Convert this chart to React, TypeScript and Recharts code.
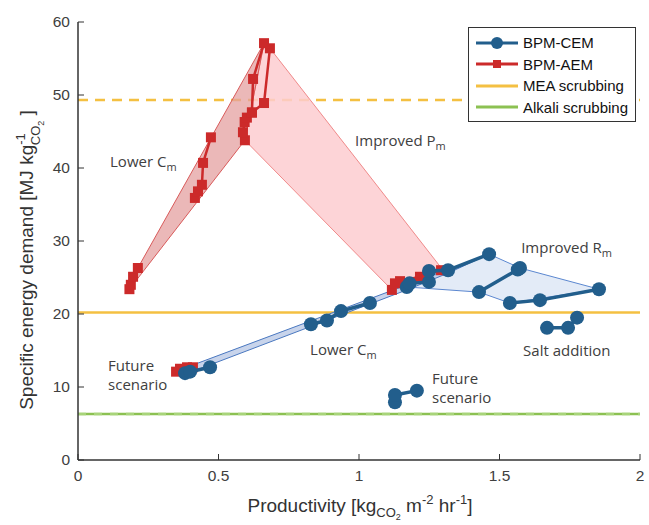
import {
  ComposedChart,
  Scatter,
  XAxis,
  YAxis,
  ReferenceLine,
  ReferenceDot,
  Legend,
} from "recharts";

// BPM-AEM measured runs (productivity, energy)
const aemLow = [
  { x: 0.183, y: 23.4 },
  { x: 0.188, y: 24.0 },
  { x: 0.196, y: 25.1 },
  { x: 0.213, y: 26.3 },
];
const aemMid = [
  { x: 0.416, y: 35.9 },
  { x: 0.427, y: 36.8 },
  { x: 0.441, y: 37.7 },
  { x: 0.445, y: 40.7 },
  { x: 0.473, y: 44.2 },
];
const aemPeak = [
  { x: 0.594, y: 43.8 },
  { x: 0.587, y: 44.9 },
  { x: 0.593, y: 46.3 },
  { x: 0.601, y: 46.9 },
  { x: 0.619, y: 47.6 },
  { x: 0.662, y: 48.9 },
  { x: 0.683, y: 56.4 },
  { x: 0.662, y: 57.1 },
  { x: 0.623, y: 52.2 },
  { x: 0.619, y: 47.6 },
];
const aemHigh = [
  { x: 1.117, y: 23.3 },
  { x: 1.128, y: 24.2 },
  { x: 1.146, y: 24.5 },
  { x: 1.217, y: 25.1 },
  { x: 1.292, y: 26.0 },
];
const aemFuture = [
  { x: 0.349, y: 12.1 },
  { x: 0.363, y: 12.5 },
  { x: 0.388, y: 12.7 },
  { x: 0.409, y: 12.7 },
];

// BPM-CEM measured runs
const cemFuture = [
  { x: 0.381, y: 11.9 },
  { x: 0.399, y: 12.1 },
  { x: 0.47, y: 12.7 },
];
const cemLowerC = [
  { x: 0.829, y: 18.6 },
  { x: 0.886, y: 19.1 },
  { x: 0.936, y: 20.4 },
  { x: 1.039, y: 21.5 },
];
const cemMid = [
  { x: 1.17, y: 23.7 },
  { x: 1.18, y: 24.2 },
  { x: 1.249, y: 24.4 },
  { x: 1.249, y: 25.9 },
  { x: 1.317, y: 26.0 },
  { x: 1.463, y: 28.2 },
];
const cemRm1 = [
  { x: 1.427, y: 23.0 },
  { x: 1.565, y: 26.1 },
  { x: 1.573, y: 26.3 },
];
const cemRm2 = [
  { x: 1.537, y: 21.5 },
  { x: 1.644, y: 21.9 },
  { x: 1.854, y: 23.4 },
];
const cemSalt = [
  { x: 1.669, y: 18.1 },
  { x: 1.744, y: 18.1 },
  { x: 1.776, y: 19.5 },
];
const cemFuture2 = [
  { x: 1.128, y: 7.9 },
  { x: 1.128, y: 8.9 },
  { x: 1.206, y: 9.5 },
];

// shaded envelopes
const redLowerC = [
  { x: 0.183, y: 23.4 },
  { x: 0.213, y: 26.3 },
  { x: 0.662, y: 57.1 },
  { x: 0.594, y: 43.8 },
  { x: 0.183, y: 23.4 },
];
const redImprovedP = [
  { x: 0.662, y: 57.1 },
  { x: 0.683, y: 56.4 },
  { x: 1.295, y: 26.2 },
  { x: 1.117, y: 23.3 },
  { x: 0.594, y: 43.8 },
  { x: 0.662, y: 57.1 },
];
const blueLowerC = [
  { x: 0.372, y: 11.6 },
  { x: 0.38, y: 12.6 },
  { x: 1.463, y: 28.2 },
  { x: 1.317, y: 25.6 },
  { x: 1.17, y: 23.3 },
  { x: 0.372, y: 11.6 },
];
const blueImprovedR = [
  { x: 1.17, y: 23.7 },
  { x: 1.463, y: 28.2 },
  { x: 1.573, y: 26.3 },
  { x: 1.854, y: 23.4 },
  { x: 1.537, y: 21.5 },
  { x: 1.427, y: 23.0 },
  { x: 1.17, y: 23.7 },
];

const xTicks = [0, 0.5, 1, 1.5, 2];
const yTicks = [0, 10, 20, 30, 40, 50, 60];
const MEA = 20.2;
const MEA_HIGH = 49.3;
const ALKALI = 6.3;

// annotation text anchors (start of text, baseline)
const notes = [
  { x: 0.114, y: 40.1, text: "Lower C", sub: "m" },
  { x: 0.986, y: 43.0, text: "Improved P", sub: "m" },
  { x: 1.577, y: 28.4, text: "Improved R", sub: "m" },
  { x: 0.826, y: 14.4, text: "Lower C", sub: "m" },
  { x: 1.584, y: 14.2, text: "Salt addition", sub: "" },
  { x: 0.107, y: 12.2, text: "Future", sub: "" },
  { x: 0.107, y: 9.6, text: "scenario", sub: "" },
  { x: 1.26, y: 10.4, text: "Future", sub: "" },
  { x: 1.26, y: 7.8, text: "scenario", sub: "" },
];

const BLUE = "#225e8c";
const RED = "#cc2a2a";
const ORANGE = "#f4c042";
const GREEN = "#8cc152";
const AXIS = "#333";
const FONT = "'Liberation Sans', Arial, sans-serif";

const circle = (p: any) => <circle cx={p.cx} cy={p.cy} r={7} fill={BLUE} />;
const square = (p: any) => (
  <rect x={p.cx - 5} y={p.cy - 5} width={10} height={10} fill={RED} />
);
const noShape = () => <g />;

const BottomTick = (p: any) => (
  <g>
    <line x1={p.x} x2={p.x} y1={p.y - 6} y2={p.y - 12} stroke={AXIS} />
    <text x={p.x} y={p.y} dy="0.95em" textAnchor="middle" fill="#404040" fontSize={15.5} fontFamily={FONT}>
      {p.payload.value}
    </text>
  </g>
);
const TopTick = (p: any) => (
  <line x1={p.x} x2={p.x} y1={p.y} y2={p.y + 6} stroke={AXIS} />
);
const LeftTick = (p: any) => (
  <g>
    <line x1={p.x + 8} x2={p.x + 14} y1={p.y} y2={p.y} stroke={AXIS} />
    <text x={p.x} y={p.y} dy="0.35em" textAnchor="end" fill="#404040" fontSize={15.5} fontFamily={FONT}>
      {p.payload.value}
    </text>
  </g>
);
const RightTick = (p: any) => (
  <line x1={p.x} x2={p.x - 6} y1={p.y} y2={p.y} stroke={AXIS} />
);

const Note = (text: string, sub: string) => (p: any) => (
  <text x={p.cx} y={p.cy} fill="#404040" fontSize={15} fontFamily="'Open Sans', sans-serif">
    {text}
    {sub && (
      <tspan fontSize={11} dy={4}>
        {sub}
      </tspan>
    )}
  </text>
);

const YLabel = () => (
  <text
    transform="translate(33,260) rotate(-90)"
    textAnchor="middle"
    fill="#333"
    fontSize={19}
    fontFamily={FONT}
  >
    Specific energy demand [MJ kg
    <tspan fontSize={13} dy={-8}>-1</tspan>
    <tspan fontSize={13} dx={-12} dy={15}>CO</tspan>
    <tspan fontSize={9} dy={4}>2</tspan>
    <tspan dy={-11}> ]</tspan>
  </text>
);

const XLabel = () => (
  <text x={360} y={512} textAnchor="middle" fill="#333" fontSize={19} fontFamily={FONT}>
    Productivity [kg
    <tspan fontSize={13} dy={5}>CO</tspan>
    <tspan fontSize={9} dy={3}>2</tspan>
    <tspan dy={-8}> m</tspan>
    <tspan fontSize={13} dy={-8}>-2</tspan>
    <tspan dy={8}> hr</tspan>
    <tspan fontSize={13} dy={-8}>-1</tspan>
    <tspan dy={8}>]</tspan>
  </text>
);

const legendItems = [
  { name: "BPM-CEM", color: BLUE, marker: "circle" },
  { name: "BPM-AEM", color: RED, marker: "square" },
  { name: "MEA scrubbing", color: ORANGE, marker: "" },
  { name: "Alkali scrubbing", color: GREEN, marker: "" },
];

const LegendBox = () => (
  <div
    style={{
      border: "1px solid #333",
      background: "#fff",
      padding: "4px 6px 3px 6px",
      fontFamily: FONT,
      fontSize: 15,
      color: "#111",
    }}
  >
    {legendItems.map((it) => (
      <div key={it.name} style={{ display: "flex", alignItems: "center", height: 21.5 }}>
        <svg width={44} height={14} style={{ marginRight: 4 }}>
          <line x1={1} x2={43} y1={7} y2={7} stroke={it.color} strokeWidth={3} />
          {it.marker === "circle" && <circle cx={22} cy={7} r={6} fill={it.color} />}
          {it.marker === "square" && <rect x={18} y={3} width={8} height={8} fill={it.color} />}
        </svg>
        <span>{it.name}</span>
      </div>
    ))}
  </div>
);

const polyScatter = (data: any[], fill: string, stroke: string, key: string) => (
  <Scatter
    key={key}
    data={data}
    shape={noShape}
    line={{ fill, stroke, strokeWidth: 1 }}
    lineType="joint"
    isAnimationActive={false}
    legendType="none"
  />
);

const redRuns = [aemLow, aemMid, aemPeak, aemHigh, aemFuture];
const blueRuns = [cemFuture, cemLowerC, cemMid, cemRm1, cemRm2, cemSalt, cemFuture2];

export default function App() {
  return (
    <div style={{ position: "absolute", left: 0, top: 0, background: "#fff" }}>
      <ComposedChart width={649} height={525} margin={{ top: 22, right: 9, left: 18, bottom: 20 }}>
        <XAxis
          type="number"
          dataKey="x"
          domain={[0, 2]}
          ticks={xTicks}
          allowDataOverflow
          height={45}
          tickLine={false}
          tickSize={0}
          tickMargin={6}
          tick={BottomTick}
          axisLine={{ stroke: AXIS, strokeWidth: 1.5 }}
          label={{ content: XLabel }}
        />
        <XAxis
          xAxisId="top"
          orientation="top"
          type="number"
          domain={[0, 2]}
          ticks={xTicks}
          height={0}
          tickLine={false}
          tickSize={0}
          tickMargin={0}
          tick={TopTick}
          axisLine={{ stroke: AXIS, strokeWidth: 1.5 }}
        />
        <YAxis
          type="number"
          dataKey="y"
          domain={[0, 60]}
          ticks={yTicks}
          allowDataOverflow
          width={60}
          tickLine={false}
          tickSize={0}
          tickMargin={8}
          tick={LeftTick}
          axisLine={{ stroke: AXIS, strokeWidth: 1.5 }}
          label={{ content: YLabel }}
        />
        <YAxis
          yAxisId="right"
          orientation="right"
          type="number"
          domain={[0, 60]}
          ticks={yTicks}
          width={0}
          tickLine={false}
          tickSize={0}
          tickMargin={0}
          tick={RightTick}
          axisLine={{ stroke: AXIS, strokeWidth: 1.5 }}
        />

        {polyScatter(redImprovedP, "rgba(253,205,208,0.85)", "#f08a8a", "p1")}
        {polyScatter(redLowerC, "rgba(228,160,160,0.75)", "#d85a5a", "p2")}
        {polyScatter(blueImprovedR, "rgba(222,232,246,0.85)", "#5b87d0", "p3")}
        {polyScatter(blueLowerC, "rgba(190,204,232,0.85)", "#4a78c0", "p4")}

        <ReferenceLine y={MEA} stroke={ORANGE} strokeWidth={2.5} />
        <ReferenceLine y={MEA_HIGH} stroke={ORANGE} strokeWidth={2.5} strokeDasharray="10 7" />
        <ReferenceLine y={ALKALI} stroke={GREEN} strokeWidth={2.5} />
        <ReferenceLine y={ALKALI} stroke="#a8d47a" strokeWidth={2.5} strokeDasharray="8 8" />

        {redRuns.map((d, i) => (
          <Scatter
            key={"r" + i}
            data={d}
            shape={square}
            line={{ stroke: RED, strokeWidth: 2.5 }}
            lineType="joint"
            isAnimationActive={false}
            legendType="none"
          />
        ))}
        {blueRuns.map((d, i) => (
          <Scatter
            key={"b" + i}
            data={d}
            shape={circle}
            line={{ stroke: BLUE, strokeWidth: 3.5 }}
            lineType="joint"
            isAnimationActive={false}
            legendType="none"
          />
        ))}

        {notes.map((n, i) => (
          <ReferenceDot key={"n" + i} x={n.x} y={n.y} r={0} shape={Note(n.text, n.sub)} />
        ))}

        <Legend
          layout="horizontal"
          align="center"
          verticalAlign="middle"
          wrapperStyle={{ left: 468, top: 27, width: 168, height: "auto" }}
          content={LegendBox}
        />
      </ComposedChart>
    </div>
  );
}
